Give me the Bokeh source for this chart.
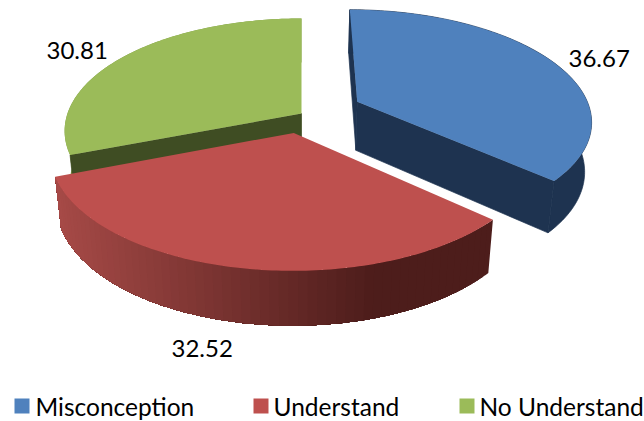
import numpy as np
from bokeh.plotting import figure
from bokeh.embed import file_html
from bokeh.resources import INLINE
from bokeh.core.properties import value

categories = ["Misconception", "Understand", "No Understand"]
values = [36.67, 32.52, 30.81]
labels = ["36.67", "32.52", "30.81"]
top_colors = ["#4F81BD", "#BE504E", "#9BBB59"]
explode = [0.265, 0.175, 0.0]

VX, VY = 301.0, 113.0   # projected pie centre
A, B, K = 234.0, 109.8, 0.1555

p = figure(width=644, height=421, x_range=(0, 644), y_range=(421, 0),
           output_backend="svg", toolbar_location=None, min_border=0,
           outline_line_color=None, background_fill_color="white", border_fill_color="white")
p.axis.visible = False
p.grid.visible = False

def top(X, Y):
    d = 1 + K * Y
    return VX + A * X / d, VY - B * Y / d

def bottom(X, Y):
    x, y = top(X, Y)
    return VX + (x - VX) * 0.976, y + 49 - 5 * Y

def world(a, ex, ey, r=1.0):
    return ex + r * np.sin(a), ey + r * np.cos(a)

def fill(xs, ys, c, stroke=False):
    p.patch(list(xs), list(ys), fill_color=c, line_color=c if stroke else None, line_width=0.7)

total = sum(values)
edges = np.cumsum([0] + values) / total * 2 * np.pi
geo = []
for i, v in enumerate(values):
    a0, a1 = edges[i], edges[i + 1]
    mid = (a0 + a1) / 2
    geo.append((a0, a1, explode[i] * np.sin(mid), explode[i] * np.cos(mid)))

def top_surface(i):
    a0, a1, ex, ey = geo[i]
    t = np.linspace(a0, a1, 120)
    X, Y = world(t, ex, ey)
    X = np.r_[ex, X]; Y = np.r_[ey, Y]
    x, y = top(X, Y)
    fill(x, y, top_colors[i])

def radial_wall(i, a, c):
    _, _, ex, ey = geo[i]
    X, Y = world(a, ex, ey)
    x0, y0 = top(ex, ey); x1, y1 = top(X, Y)
    x2, y2 = bottom(X, Y); x3, y3 = bottom(ex, ey)
    fill([x0, x1, x2, x3], [y0, y1, y2, y3], c, stroke=True)

def outer_wall(i, color_at, n=1, stroke=False):
    # painter's order: each band runs to the slice's far end, so no seams appear
    a0, a1, ex, ey = geo[i]
    k = max(4, 120 // n)
    t = np.linspace(a0, a1, n * k + 1)
    for j in range(n):
        X, Y = world(t[j * k:], ex, ey)
        xt, yt = top(X, Y)
        xb, yb = bottom(X, Y)
        fill(np.r_[xt, xb[::-1]], np.r_[yt, yb[::-1]], color_at(xt[:k + 1].mean()), stroke)

def red_grad(x):
    f = np.clip((x - 58) / (375 - 58), 0, 1)
    c0 = np.array([166, 74, 71]); c1 = np.array([77, 29, 27])
    r, g, b = (c0 + (c1 - c0) * f).astype(int)
    return f"#{r:02x}{g:02x}{b:02x}"

# green slice
outer_wall(2, lambda x: "#7C9A45", n=1)
radial_wall(2, geo[2][0], "#3F4D23")
top_surface(2)
# blue slice
radial_wall(0, geo[0][0], "#1E3350")
outer_wall(0, lambda x: "#1E3350", n=1, stroke=True)
radial_wall(0, geo[0][1], "#1E3350")
top_surface(0)
# red slice
outer_wall(1, red_grad, n=60)
top_surface(1)

# data labels
p.text([568, 171, 46], [58, 348, 50], text=labels, text_font=value("Lato"),
       text_font_size="24px", text_color="#000000", text_baseline="middle", text_align="left")

# legend
lx = [14, 253, 459]
p.quad(left=lx, right=[v + 15 for v in lx], top=[398] * 3, bottom=[413] * 3,
       fill_color=top_colors, line_color=None)
p.text([35, 273, 479], [406] * 3, text=categories, text_font=value("Lato"),
       text_font_size="24.5px", text_color="#000000", text_baseline="middle", text_align="left")

open("out.html", "w").write(file_html(p, INLINE))
